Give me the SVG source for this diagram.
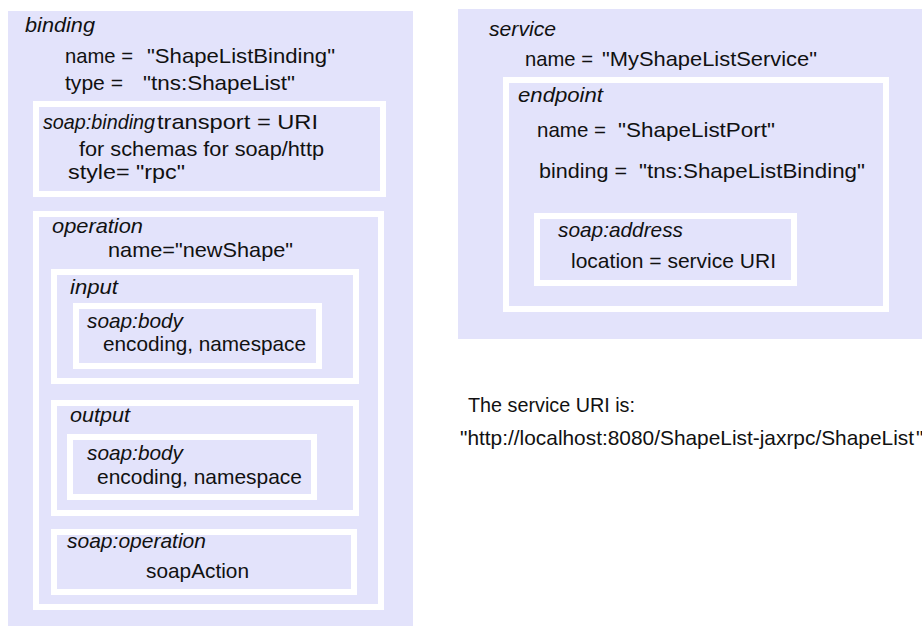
<svg xmlns="http://www.w3.org/2000/svg" width="922" height="626" viewBox="0 0 922 626">
<style>
.bg{fill:#E3E3FB;}
.box{fill:#E3E3FB;stroke:#FFFFFF;stroke-width:6;}
text{font-family:"Liberation Sans Narrow","Liberation Sans",Arial,sans-serif;font-size:21px;fill:#111111;}
.it{font-style:italic;}
</style>
<rect width="922" height="626" fill="#FFFFFF"/>
<g id="binding">
<rect class="bg" x="8" y="11" width="405" height="615"/>
<text class="it" x="25" y="32" textLength="70" lengthAdjust="spacingAndGlyphs">binding</text>
<text x="65" y="63" textLength="68" lengthAdjust="spacingAndGlyphs">name =</text>
<text x="147" y="63" textLength="188" lengthAdjust="spacingAndGlyphs">"ShapeListBinding"</text>
<text x="65" y="90" textLength="58" lengthAdjust="spacingAndGlyphs">type =</text>
<text x="143" y="90" textLength="152" lengthAdjust="spacingAndGlyphs">"tns:ShapeList"</text>
</g>
<g id="soap-binding">
<rect class="box" x="36" y="104" width="347" height="90"/>
<text class="it" x="43" y="129" textLength="112" lengthAdjust="spacingAndGlyphs">soap:binding</text>
<text x="157" y="129" textLength="161" lengthAdjust="spacingAndGlyphs">transport = URI</text>
<text x="79" y="156" textLength="245" lengthAdjust="spacingAndGlyphs">for schemas for soap/http</text>
<text x="68" y="179" textLength="117" lengthAdjust="spacingAndGlyphs">style= "rpc"</text>
</g>
<g id="operation">
<rect class="box" x="36" y="214" width="345" height="393"/>
<text class="it" x="52" y="233" textLength="91" lengthAdjust="spacingAndGlyphs">operation</text>
<text x="108" y="257" textLength="185" lengthAdjust="spacingAndGlyphs">name="newShape"</text>
</g>
<g id="input">
<rect class="box" x="54" y="272" width="302" height="109"/>
<text class="it" x="70" y="294" textLength="48" lengthAdjust="spacingAndGlyphs">input</text>
</g>
<g id="input-soap-body">
<rect class="box" x="76" y="306" width="243" height="60"/>
<text class="it" x="87" y="328" textLength="96" lengthAdjust="spacingAndGlyphs">soap:body</text>
<text x="103" y="351" textLength="203" lengthAdjust="spacingAndGlyphs">encoding, namespace</text>
</g>
<g id="output">
<rect class="box" x="54" y="403" width="302" height="110"/>
<text class="it" x="70" y="422" textLength="60" lengthAdjust="spacingAndGlyphs">output</text>
</g>
<g id="output-soap-body">
<rect class="box" x="70" y="437" width="244" height="60"/>
<text class="it" x="87" y="460" textLength="96" lengthAdjust="spacingAndGlyphs">soap:body</text>
<text x="97" y="484" textLength="205" lengthAdjust="spacingAndGlyphs">encoding, namespace</text>
</g>
<g id="soap-operation">
<rect class="box" x="54" y="532" width="300" height="60"/>
<text class="it" x="67" y="548" textLength="139" lengthAdjust="spacingAndGlyphs">soap:operation</text>
<text x="146" y="578" textLength="103" lengthAdjust="spacingAndGlyphs">soapAction</text>
</g>
<g id="service">
<rect class="bg" x="458" y="9" width="464" height="330"/>
<text class="it" x="489" y="36" textLength="67" lengthAdjust="spacingAndGlyphs">service</text>
<text x="525" y="66" textLength="68" lengthAdjust="spacingAndGlyphs">name =</text>
<text x="602" y="66" textLength="215" lengthAdjust="spacingAndGlyphs">"MyShapeListService"</text>
</g>
<g id="endpoint">
<rect class="box" x="506" y="80" width="380" height="229"/>
<text class="it" x="518" y="102" textLength="85" lengthAdjust="spacingAndGlyphs">endpoint</text>
<text x="537" y="137" textLength="69" lengthAdjust="spacingAndGlyphs">name =</text>
<text x="618" y="137" textLength="157" lengthAdjust="spacingAndGlyphs">"ShapeListPort"</text>
<text x="539" y="178" textLength="88" lengthAdjust="spacingAndGlyphs">binding =</text>
<text x="639" y="178" textLength="226" lengthAdjust="spacingAndGlyphs">"tns:ShapeListBinding"</text>
</g>
<g id="soap-address">
<rect class="box" x="537" y="216" width="257" height="67"/>
<text class="it" x="558" y="237" textLength="125" lengthAdjust="spacingAndGlyphs">soap:address</text>
<text x="571" y="268" textLength="205" lengthAdjust="spacingAndGlyphs">location = service URI</text>
</g>
<g id="note">
<text x="468" y="412" textLength="167" lengthAdjust="spacingAndGlyphs">The service URI is:</text>
<text x="460" y="445" textLength="454" lengthAdjust="spacingAndGlyphs">"http://localhost:8080/ShapeList-jaxrpc/ShapeList</text>
<text x="916" y="445">"</text>
</g>
<g id="connectors"/>
</svg>
